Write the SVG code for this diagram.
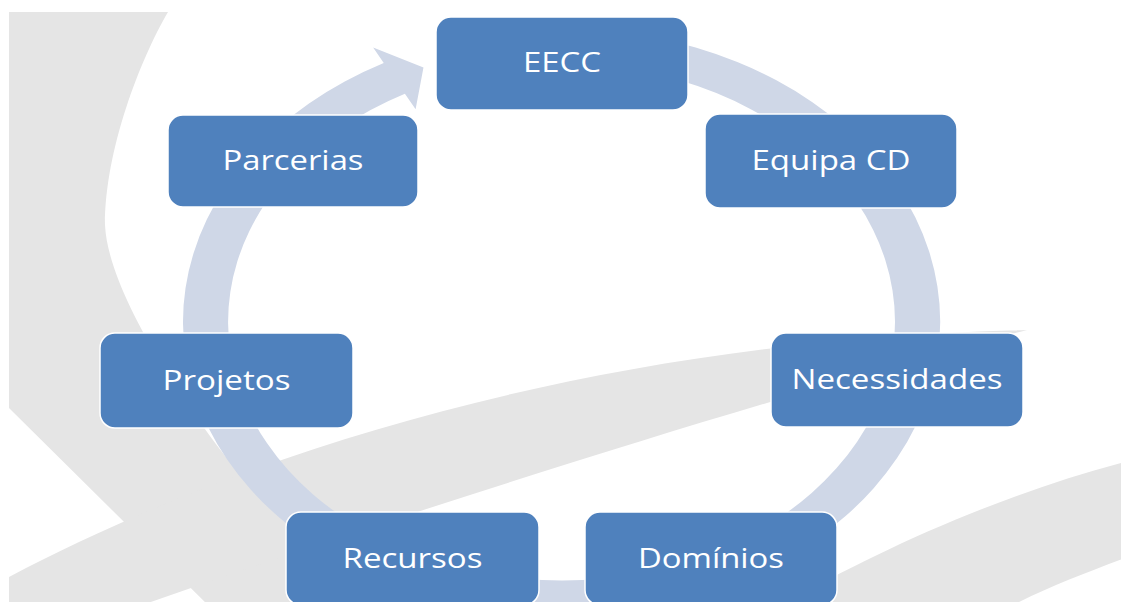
<svg xmlns="http://www.w3.org/2000/svg" width="1121" height="602" viewBox="0 0 1121 602">
  <defs>
    <clipPath id="bgclip">
      <rect x="9" y="12" width="1112" height="590"/>
    </clipPath>
    <style>
      .swoosh { fill: #e5e5e5; }
      .ring { fill: #cfd7e7; }
      .box { fill: #4f81bd; stroke: #ffffff; stroke-width: 1.5; }
      .label { font-family: "Open Sans", "Liberation Sans", sans-serif; font-size: 26.5px; fill: #ffffff; text-anchor: middle; }
    </style>
  </defs>
  <rect x="0" y="0" width="1121" height="602" fill="#ffffff"/>
  <g id="background" clip-path="url(#bgclip)">
    <path class="swoosh" d="M 0,12 L 168,12 C 140,60 105,150 105,225 C 108,290 180,400 235,468 L 348,612 L 215,612 L 9,408 L 0,399 Z"/>
    <path class="swoosh" d="M 0,582 L 9,577 C 250,450 600,340 1027,330 C 850,375 450,495 100,620 L 0,620 Z"/>
    <path class="swoosh" d="M 770,612 C 850,565 980,500 1125,462 L 1125,558 C 1080,575 1040,590 1000,612 Z"/>
  </g>
  <g id="connectors">
    <path class="ring" transform="translate(561.5,322) scale(1.29,1)" d="M 0,-293.5 A 293.5,293.5 0 1 1 -137.8,-259.1 L -146,-274.6 L -107,-254.4 L -113.1,-212.8 L -121.4,-228.2 A 258.5,258.5 0 1 0 0,-258.5 Z"/>
  </g>
  <g id="node-eecc">
    <rect class="box" x="436" y="17" width="252" height="93" rx="15"/>
    <text class="label" x="562" y="72" textLength="78" lengthAdjust="spacingAndGlyphs">EECC</text>
  </g>
  <g id="node-equipa-cd">
    <rect class="box" x="705" y="114" width="252" height="94" rx="15"/>
    <text class="label" x="831" y="170" textLength="159" lengthAdjust="spacingAndGlyphs">Equipa CD</text>
  </g>
  <g id="node-necessidades">
    <rect class="box" x="771" y="333" width="252" height="94" rx="15"/>
    <text class="label" x="897" y="389" textLength="211" lengthAdjust="spacingAndGlyphs">Necessidades</text>
  </g>
  <g id="node-dominios">
    <rect class="box" x="585" y="512" width="252" height="93" rx="15"/>
    <text class="label" x="711" y="568" textLength="146" lengthAdjust="spacingAndGlyphs">Domínios</text>
  </g>
  <g id="node-recursos">
    <rect class="box" x="286" y="512" width="253" height="93" rx="15"/>
    <text class="label" x="412.5" y="568" textLength="140" lengthAdjust="spacingAndGlyphs">Recursos</text>
  </g>
  <g id="node-projetos">
    <rect class="box" x="100" y="333" width="253" height="95" rx="15"/>
    <text class="label" x="226.5" y="390" textLength="128" lengthAdjust="spacingAndGlyphs">Projetos</text>
  </g>
  <g id="node-parcerias">
    <rect class="box" x="168" y="115" width="250" height="92" rx="15"/>
    <text class="label" x="293" y="170" textLength="141" lengthAdjust="spacingAndGlyphs">Parcerias</text>
  </g>
</svg>
